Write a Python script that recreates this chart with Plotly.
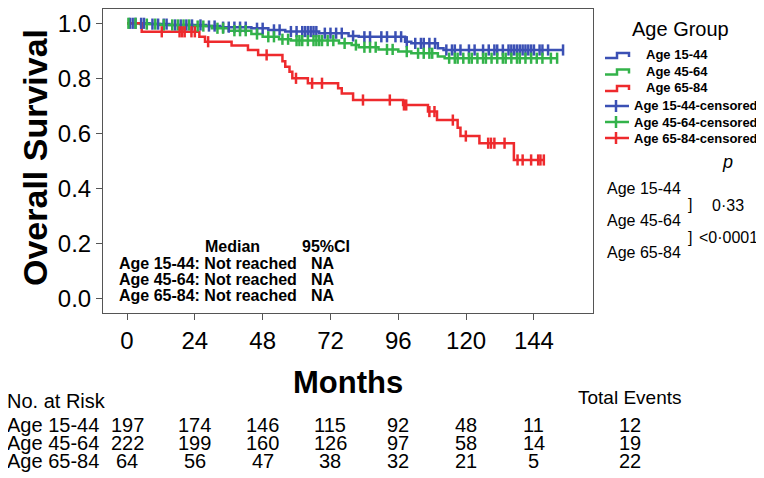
import plotly.graph_objects as go

# ---- data ------------------------------------------------------------------
groups = ["Age 15-44", "Age 45-64", "Age 65-84"]
colors = ["#3b50b4", "#33b34a", "#ee2a2d"]

blue_t = [8, 15, 28, 33, 44, 50, 56, 68, 78.4, 82, 98.4, 100.6, 110, 112]
blue_s = [0.997, 0.994, 0.99, 0.986, 0.982, 0.976, 0.970, 0.964, 0.954, 0.951, 0.933, 0.927, 0.909, 0.903]
blue_cens = [1, 2, 3, 5, 6, 9, 11, 13, 14, 17, 19, 21, 23, 26, 29, 31, 34, 36, 38, 40, 42, 46, 48,
             52, 54, 58, 60, 62, 63, 64, 65, 66, 67, 70, 72, 74, 76, 80, 84, 86, 90, 92, 95,
             97, 99, 102, 104, 105, 107, 109, 113, 115, 116, 118, 121, 123, 126, 128, 130,
             131, 133, 135, 136, 137, 138, 139, 140, 141, 142, 143, 144, 146, 147, 149, 154.3]

green_t = [4.6, 11.6, 23.2, 30, 36, 44, 48, 53.8, 58, 75, 79.5, 82, 89, 96, 100.6, 110, 112.4]
green_s = [0.997, 0.994, 0.99, 0.982, 0.973, 0.961, 0.951, 0.942, 0.937, 0.927, 0.921, 0.913, 0.905,
           0.897, 0.891, 0.879, 0.873]
green_cens = [0.5, 3, 7, 10, 13, 16, 18, 20, 22, 25, 27, 32, 34, 38, 40, 42, 46, 50, 52, 55, 57, 60,
              61, 62, 64, 66, 67, 68, 69, 71, 73, 77, 81, 84, 86, 88, 92, 94, 99, 103, 105, 107,
              108, 114, 116, 117, 119, 121, 122, 124, 126, 127, 129, 131, 133, 134, 136, 138,
              139, 141, 143, 145, 147, 150, 152.2]

red_t = [5.2, 25.6, 27.6, 37, 42.8, 46.4, 55, 56, 57.5, 58.5, 64, 74.7, 76, 80, 97.7, 106.5, 109.7,
         117, 118, 124.7, 136.9]
red_s = [0.969, 0.951, 0.933, 0.919, 0.903, 0.885, 0.862, 0.842, 0.824, 0.80, 0.782, 0.764, 0.745,
         0.721, 0.703, 0.679, 0.648, 0.620, 0.590, 0.564, 0.503]
red_cens = [12.3, 18.6, 19.5, 20.4, 22.8, 24, 28.7, 49.4, 59.8, 65.5, 69, 83.5, 93, 98, 98.8, 107,
            108.8, 115.3, 119.9, 127.8, 128.8, 130, 133.6, 138.2, 140, 143, 145.5, 146.3, 147.5]

x_ticks = [0, 24, 48, 72, 96, 120, 144]
at_risk = {
    "Age 15-44": [197, 174, 146, 115, 92, 48, 11],
    "Age 45-64": [222, 199, 160, 126, 97, 58, 14],
    "Age 65-84": [64, 56, 47, 38, 32, 21, 5],
}
total_events = [12, 19, 22]
p_values = ["0·33", "<0·0001"]

FONT = "Liberation Sans, Arial, sans-serif"

# plot box in window pixels; the page body adds an 8px margin around the figure
OFF = 8
W, H = 764 - OFF, 478 - OFF
L, R, T, B = 103, 593, 9, 313


def px(x):
    return (x - L) / (R - L)


def py(y):
    return (B - y) / (B - T)


def step_at(times, surv, t):
    s = 1.0
    for ti, si in zip(times, surv):
        if ti <= t:
            s = si
    return s


fig = go.Figure()
series = [(blue_t, blue_s, blue_cens), (green_t, green_s, green_cens), (red_t, red_s, red_cens)]
for (t, s, c), name, col in zip(series, groups, colors):
    end = max(c + t)
    xs = [0] + t + [end]
    ys = [1.0] + s + [s[-1]]
    fig.add_trace(go.Scatter(x=xs, y=ys, mode="lines", line=dict(color=col, width=2.5, shape="hv"),
                             name=name, showlegend=False))
for (t, s, c), name, col in zip(series, groups, colors):
    fig.add_trace(go.Scatter(x=c, y=[step_at(t, s, ci) for ci in c], mode="markers",
                             marker=dict(symbol="line-ns", size=8, line=dict(color=col, width=2.5)),
                             name=name + "-censored", showlegend=False))

ann = []
shapes = []

# axis titles
ann.append(dict(text="<b>Overall Survival</b>", x=px(35), y=py(158), textangle=-90,
                font=dict(size=34, family=FONT)))
ann.append(dict(text="<b>Months</b>", x=px(348), y=py(383), font=dict(size=31, family=FONT)))

# median table inside plot
ann.append(dict(text="<b>Median</b>", x=px(232), y=py(246), font=dict(size=16, family=FONT)))
ann.append(dict(text="<b>95%CI</b>", x=px(326), y=py(246), font=dict(size=16, family=FONT)))
for i, g in enumerate(groups):
    yy = py(263 + 16 * i)
    ann.append(dict(text="<b>%s: Not reached</b>" % g, x=px(117), y=yy, xanchor="left",
                    font=dict(size=16, family=FONT)))
    ann.append(dict(text="<b>NA</b>", x=px(323), y=yy, font=dict(size=16, family=FONT)))

# custom legend
ann.append(dict(text="Age Group", x=px(680), y=py(29), font=dict(size=20, family=FONT)))
for i, (g, col) in enumerate(zip(groups, colors)):
    yc = 55 + 16.5 * i
    ann.append(dict(text="<b>%s</b>" % g, x=px(644), y=py(yc), xanchor="left", font=dict(size=13, family=FONT)))
    path = "M %f %f L %f %f L %f %f L %f %f L %f %f" % (
        px(605), py(yc + 3), px(617), py(yc + 3), px(617), py(yc - 2), px(629), py(yc - 2), px(629), py(yc + 2))
    shapes.append(dict(type="path", path=path, xref="paper", yref="paper", line=dict(color=col, width=2.5)))
for i, (g, col) in enumerate(zip(groups, colors)):
    yc = 106 + 16 * i
    ann.append(dict(text="<b>%s-censored</b>" % g, x=px(632), y=py(yc), xanchor="left",
                    font=dict(size=13, family=FONT)))
    shapes.append(dict(type="line", xref="paper", yref="paper", x0=px(605), x1=px(629), y0=py(yc), y1=py(yc),
                       line=dict(color=col, width=2.5)))
    shapes.append(dict(type="line", xref="paper", yref="paper", x0=px(616), x1=px(616), y0=py(yc - 6),
                       y1=py(yc + 6), line=dict(color=col, width=2.5)))

# p values
ann.append(dict(text="<i>p</i>", x=px(727), y=py(162), font=dict(size=18, family=FONT)))
for i, g in enumerate(groups):
    ann.append(dict(text=g, x=px(605), y=py(188 + 32.5 * i), xanchor="left", font=dict(size=16, family=FONT)))
ann.append(dict(text="]", x=px(690), y=py(204), font=dict(size=16, family=FONT)))
ann.append(dict(text=p_values[0], x=px(728), y=py(205), font=dict(size=16, family=FONT)))
ann.append(dict(text="]", x=px(690), y=py(237), font=dict(size=16, family=FONT)))
ann.append(dict(text=p_values[1], x=px(697), y=py(237), xanchor="left", font=dict(size=16, family=FONT)))

# risk table
RISK = 20
ann.append(dict(text="No. at Risk", x=px(5), y=py(401), xanchor="left", font=dict(size=RISK, family=FONT)))
ann.append(dict(text="Total Events", x=px(630), y=py(397), font=dict(size=RISK - 1, family=FONT)))
for i, g in enumerate(groups):
    yy = py(425 + 18 * i)
    ann.append(dict(text=g, x=px(5), y=yy, xanchor="left", font=dict(size=RISK, family=FONT)))
    for xt, n in zip(x_ticks, at_risk[g]):
        ann.append(dict(text=str(n), x=xt, xref="x", y=yy, font=dict(size=RISK, family=FONT)))
    ann.append(dict(text=str(total_events[i]), x=px(630), y=yy, font=dict(size=RISK, family=FONT)))

for a in ann:
    a.setdefault("xref", "paper")
    a["yref"] = "paper"
    a["showarrow"] = False
    a.setdefault("xanchor", "center")
    a["yanchor"] = "middle"
    a["font"]["color"] = "black"

x_lo = -8.5
x_hi = 164.9
y_lo = -0.0535
y_hi = 1.052

fig.update_layout(
    width=W, height=H,
    margin=dict(l=L - OFF, r=W - (R - OFF), t=T - OFF, b=H - (B - OFF), pad=0),
    paper_bgcolor="white", plot_bgcolor="white",
    font=dict(family=FONT, color="black"),
    annotations=ann, shapes=shapes,
    xaxis=dict(range=[x_lo, x_hi], tickvals=x_ticks, showgrid=False, zeroline=False, automargin=False,
               showline=True, linecolor="#555", linewidth=1, mirror=True,
               ticks="outside", ticklen=6, tickcolor="#555", tickfont=dict(size=24)),
    yaxis=dict(range=[y_lo, y_hi], tickvals=[0, 0.2, 0.4, 0.6, 0.8, 1.0], tickformat=".1f",
               showgrid=False, zeroline=False, showline=True, linecolor="#555", linewidth=1, mirror=True,
               automargin=False, ticks="outside", ticklen=6, tickcolor="#555", tickfont=dict(size=24)),
    showlegend=False,
)

fig.write_html("out.html")
